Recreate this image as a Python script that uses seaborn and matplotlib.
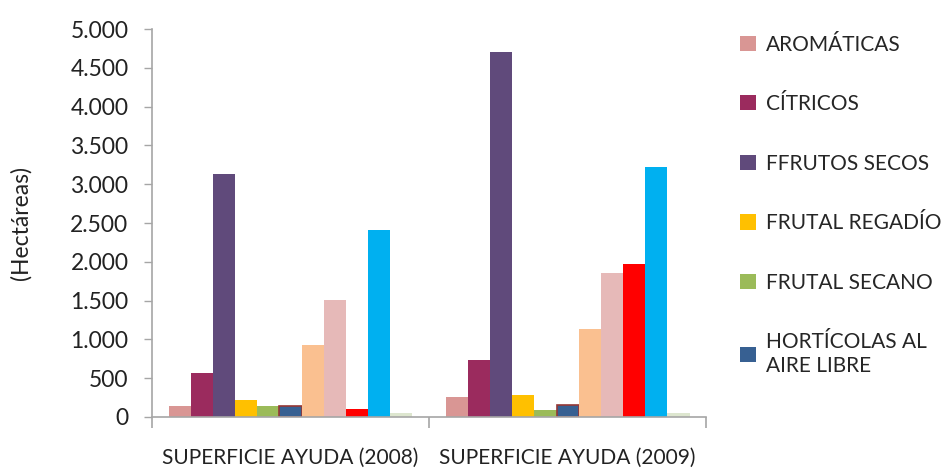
import pandas as pd
import matplotlib.pyplot as plt
import seaborn as sns
from matplotlib.ticker import FuncFormatter, FixedLocator

# --- data ---
groups = ["SUPERFICIE AYUDA (2008)", "SUPERFICIE AYUDA (2009)"]
crops = [
    "AROMÁTICAS", "CÍTRICOS", "FFRUTOS SECOS", "FRUTAL REGADÍO", "FRUTAL SECANO",
    "HORTÍCOLAS AL\nAIRE LIBRE", "HORTÍCOLAS BAJO ABRIGO", "OLIVAR", "PLATANERA",
    "VIÑEDO", "OTROS",
]
ha_2008 = [137, 567, 3130, 223, 137, 137, 927, 1507, 103, 2404, 52]
ha_2009 = [253, 734, 4709, 283, 90, 155, 1128, 1855, 1971, 3228, 52]
colors = ["#D99694", "#9B2B5E", "#604A7B", "#FFC000", "#9BBB59", "#376092",
          "#FAC090", "#E6B9B8", "#FF0000", "#00B0F0", "#DDE6CF"]

df = pd.DataFrame({
    "grupo": [groups[0]] * len(crops) + [groups[1]] * len(crops),
    "cultivo": crops * 2,
    "ha": ha_2008 + ha_2009,
})

sns.set_theme(style="white")
plt.rcParams["font.family"] = ["Lato", "DejaVu Sans"]

fig = plt.figure(figsize=(9.53, 4.68), dpi=100)
ax = fig.add_axes([0.1595, 0.109, 0.5815, 0.829])

sns.barplot(data=df, x="grupo", y="ha", hue="cultivo", hue_order=crops,
            palette=colors, width=0.88, linewidth=0, saturation=1, ax=ax,
            legend=True)

# reddish outline on the hortícolas bars, like the original
for bar in ax.containers[5]:
    bar.set_edgecolor("#953735")
    bar.set_linewidth(1.2)

ax.set_ylim(0, 5000)
ax.set_xlim(-0.5, 1.5)
ax.yaxis.set_major_locator(FixedLocator(range(0, 5001, 500)))
ax.yaxis.set_major_formatter(FuncFormatter(lambda v, p: f"{int(v):,}".replace(",", ".")))
ax.xaxis.set_minor_locator(FixedLocator([-0.5, 0.5, 1.5]))

for side in ["top", "right"]:
    ax.spines[side].set_visible(False)
for side in ["left", "bottom"]:
    ax.spines[side].set_color("#A6A6A6")
    ax.spines[side].set_linewidth(1.2)

ax.tick_params(axis="y", which="major", left=True, length=6, width=1,
               color="#A6A6A6", labelsize=16.5, labelcolor="#222222", pad=11)
ax.tick_params(axis="x", which="major", length=0, labelsize=15,
               labelcolor="#222222", pad=22)
ax.tick_params(axis="x", which="minor", bottom=True, length=8, width=1.2,
               color="#A6A6A6")

ax.set_xlabel("")
ax.set_ylabel("(Hectáreas)", fontsize=16.5, color="#222222", labelpad=28)

# legend in the original is cut after the sixth entry
handles, labels = ax.get_legend_handles_labels()
ax.get_legend().remove()
fig.legend(handles[:6], labels[:6], loc="upper left",
           bbox_to_anchor=(0.768, 0.944), frameon=False, fontsize=15,
           handlelength=0.75, handleheight=0.75, handletextpad=0.5,
           labelspacing=1.9, borderaxespad=0)

fig.savefig("out.png", dpi=100)
